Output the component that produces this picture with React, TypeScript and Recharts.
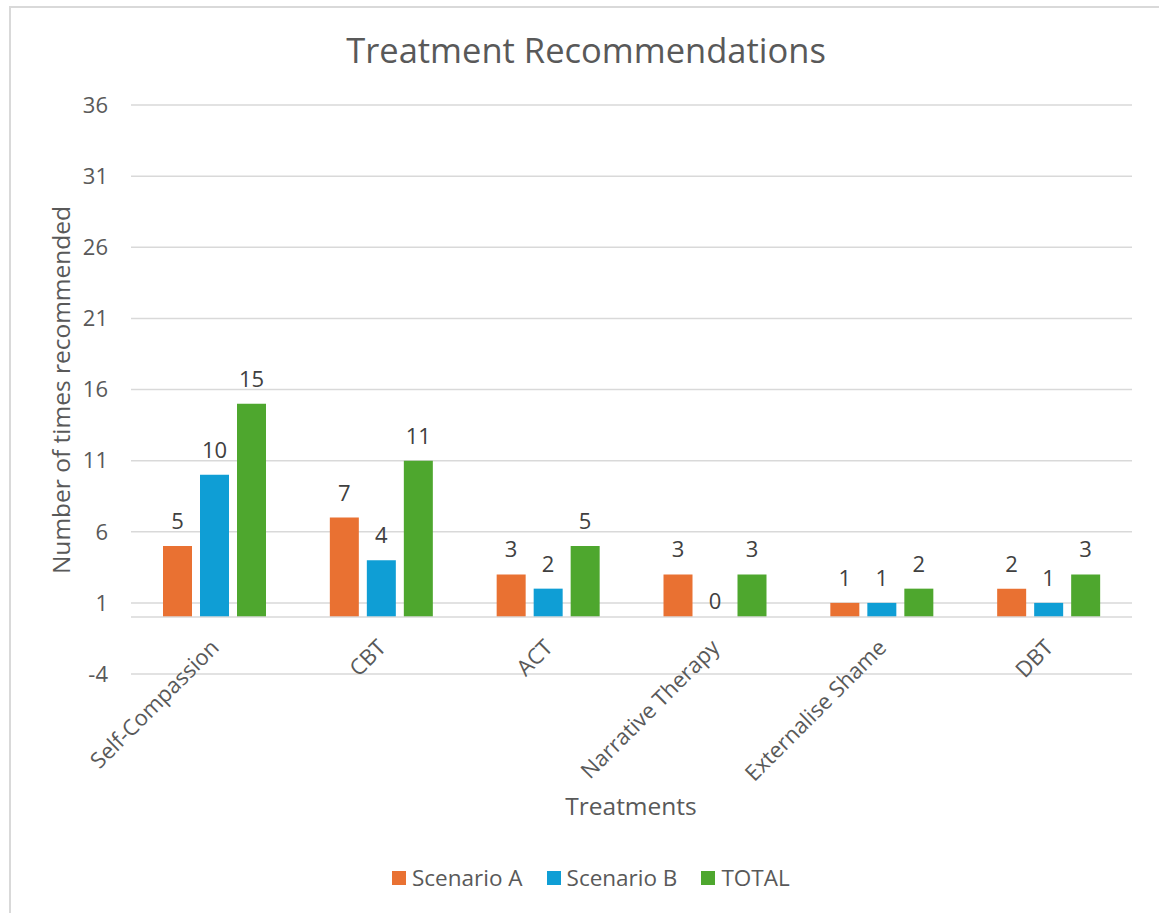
import React from 'react';
import { BarChart, Bar, XAxis, YAxis, CartesianGrid, ReferenceLine, LabelList } from 'recharts';

const categories = ['Self-Compassion', 'CBT', 'ACT', 'Narrative Therapy', 'Externalise Shame', 'DBT'];
const scenarioA = [5, 7, 3, 3, 1, 2];
const scenarioB = [10, 4, 2, 0, 1, 1];
const totals = [15, 11, 5, 3, 2, 3];
const yTicks = [-4, 1, 6, 11, 16, 21, 26, 31, 36];
const seriesKeys = ['a', 'b', 't'];
const seriesNames = ['Scenario A', 'Scenario B', 'TOTAL'];
const seriesColors = ['#E97132', '#0F9ED5', '#4EA72E'];

const data = categories.map((c, i) => ({ name: c, a: scenarioA[i], b: scenarioB[i], t: totals[i] }));

const FONT = "'Open Sans', sans-serif";
const TEXT = '#595959';

const XTick = (props: any) => {
  const { x, y, payload } = props;
  const bx = x + 6;
  const by = y - 25;
  return (
    <text
      x={bx}
      y={by}
      textAnchor="end"
      fill={TEXT}
      fontSize={22}
      fontFamily={FONT}
      transform={`rotate(-45, ${bx}, ${by})`}
    >
      {payload.value}
    </text>
  );
};

const BarValueLabel = (props: any) => {
  const { x, y, width, height, value } = props;
  if (x == null || y == null || value == null) return null;
  const gap = Math.abs(height) < 1 ? 8 : 17;
  return (
    <text x={x + width / 2} y={y - gap} textAnchor="middle" fill="#404040" fontSize={22} fontFamily={FONT}>
      {String(value)}
    </text>
  );
};

export default function App() {
  return (
    <div style={{ position: 'absolute', left: 0, top: 0, width: 1159, height: 913, background: '#fff', overflow: 'hidden', fontFamily: FONT }}>
      <div style={{ position: 'absolute', left: 9, top: 6, width: 1200, height: 1000, border: '2px solid #d9d9d9', boxSizing: 'border-box' }} />
      <div style={{ position: 'absolute', left: 0, top: 0 }}>
        <BarChart
          width={1159}
          height={913}
          data={data}
          margin={{ top: 105, right: 27, bottom: 199, left: 71 }}
          barSize={29}
          barGap={8}
        >
          <CartesianGrid vertical={false} stroke="#d9d9d9" strokeWidth={1.5} />
          <XAxis
            dataKey="name"
            height={40}
            axisLine={false}
            tickLine={false}
            tickSize={0}
            tickMargin={0}
            interval={0}
            tick={<XTick />}
          />
          <YAxis
            width={60}
            domain={[-4, 36]}
            ticks={yTicks}
            interval={0}
            axisLine={false}
            tickLine={false}
            tickMargin={17}
            tick={{ fill: TEXT, fontSize: 22, fontFamily: FONT }}
          />
          <ReferenceLine y={0} stroke="#d9d9d9" strokeWidth={1.5} />
          {seriesKeys.map((k, i) => (
            <Bar key={k} dataKey={k} name={seriesNames[i]} fill={seriesColors[i]} minPointSize={0.01} isAnimationActive={false}>
              <LabelList dataKey={k} content={<BarValueLabel />} />
            </Bar>
          ))}
        </BarChart>
      </div>
      <div style={{ position: 'absolute', left: 586, top: 50, transform: 'translate(-50%, -50%)', whiteSpace: 'nowrap', fontSize: 34.5, color: TEXT, lineHeight: '44px' }}>
        Treatment Recommendations
      </div>
      <div
        style={{
          position: 'absolute',
          left: 60,
          top: 390,
          transform: 'translate(-50%, -50%) rotate(-90deg)',
          whiteSpace: 'nowrap',
          fontSize: 24.5,
          color: TEXT,
        }}
      >
        Number of times recommended
      </div>
      <div style={{ position: 'absolute', left: 631, top: 805, transform: 'translate(-50%, -50%)', whiteSpace: 'nowrap', fontSize: 24.5, color: TEXT }}>
        Treatments
      </div>
      <div style={{ position: 'absolute', left: 392, top: 863, display: 'flex', alignItems: 'center', fontSize: 22.5, color: TEXT, lineHeight: '30px' }}>
        {seriesNames.map((n, i) => (
          <div key={n} style={{ display: 'flex', alignItems: 'center', marginRight: 24 }}>
            <span style={{ display: 'inline-block', width: 14, height: 14, background: seriesColors[i], marginRight: 6 }} />
            <span>{n}</span>
          </div>
        ))}
      </div>
    </div>
  );
}
